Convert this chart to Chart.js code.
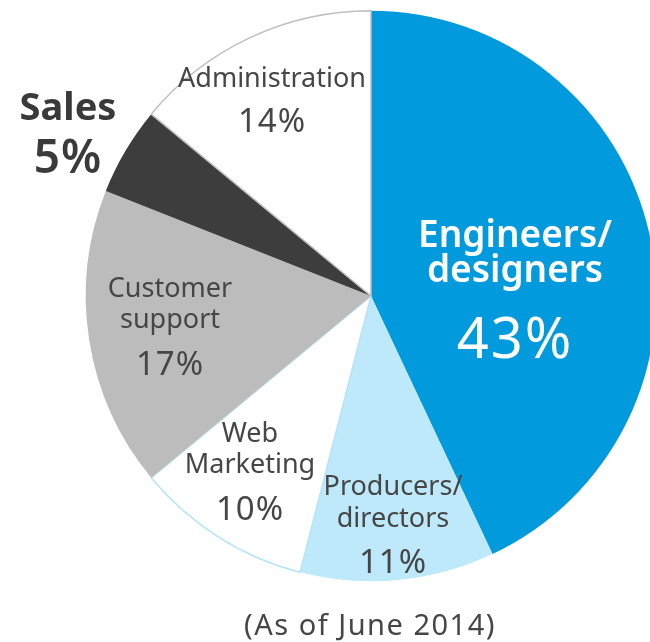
<!DOCTYPE html>
<html>
<head>
<meta charset="utf-8">
<script src="https://cdn.jsdelivr.net/npm/chart.js@4.4.0/dist/chart.umd.min.js"></script>
<style>
  html, body { margin: 0; padding: 0; background: #fff; overflow: hidden; }
  #wrap { position: relative; width: 742px; height: 642px; }
</style>
</head>
<body>
<div id="wrap"><canvas id="staffChart"></canvas></div>
<script>
// staff breakdown by role, clockwise from 12 o'clock
const roles = ['Engineers/\ndesigners', 'Producers/\ndirectors', 'Web\nMarketing', 'Customer\nsupport', 'Sales', 'Administration'];
const shares = [43, 11, 10, 17, 5, 14];
const note = '(As of June 2014)';

const fills = ['#009add', '#bde9fb', '#ffffff', '#bcbcbc', '#3d3d3d', '#ffffff'];
const edges = ['#009add', '#bde9fb', '#b5e4f8', '#bcbcbc', '#3d3d3d', '#bfbfbf'];
const edgeWidths = [0, 0, 1.5, 0, 0, 1.5];

// where each label sits, as offsets from the pie centre (first baseline)
const labelStyle = [
  { dx: 144, dy: -49, size: 37, pctSize: 56, weight: '600', pctWeight: 'normal', color: '#ffffff', gap: 35, pctGap: 76, pctSpace: 2 },
  { dx: 22, dy: 199, size: 27, pctSize: 33, weight: 'normal', pctWeight: 'normal', color: '#464646', gap: 32, pctGap: 46, pctSpace: 1 },
  { dx: -121, dy: 146, size: 27, pctSize: 33, weight: 'normal', pctWeight: 'normal', color: '#464646', gap: 31, pctGap: 47, pctSpace: 1 },
  { dx: -201, dy: 1, size: 27, pctSize: 33, weight: 'normal', pctWeight: 'normal', color: '#464646', gap: 31, pctGap: 47, pctSpace: 1 },
  { dx: -303, dy: -176, size: 38, pctSize: 46, weight: 'bold', pctWeight: '600', color: '#3a3a3a', gap: 0, pctGap: 53, pctSpace: 1 },
  { dx: -99, dy: -209, size: 27, pctSize: 33, weight: 'normal', pctWeight: 'normal', color: '#464646', gap: 0, pctGap: 45, pctSpace: 1 }
];

const fontFamily = '"Noto Sans", "DejaVu Sans", sans-serif';

const sliceLabels = {
  id: 'sliceLabels',
  afterDatasetsDraw(chart) {
    const ctx = chart.ctx;
    const arcs = chart.getDatasetMeta(0).data;
    ctx.save();
    ctx.textAlign = 'center';
    ctx.textBaseline = 'alphabetic';
    arcs.forEach((arc, i) => {
      const s = labelStyle[i];
      const x = arc.x + s.dx;
      let y = arc.y + s.dy;
      ctx.fillStyle = s.color;
      ctx.letterSpacing = '0px';
      ctx.font = `${s.weight} ${s.size}px ${fontFamily}`;
      const lines = roles[i].split('\n');
      lines.forEach((line, k) => {
        ctx.fillText(line, x, y);
        if (k < lines.length - 1) y += s.gap;
      });
      ctx.letterSpacing = s.pctSpace + 'px';
      ctx.font = `${s.pctWeight} ${s.pctSize}px ${fontFamily}`;
      ctx.fillText(shares[i] + '%', x, y + s.pctGap);
    });
    // footnote under the pie
    const c = arcs[0];
    ctx.fillStyle = '#464646';
    ctx.letterSpacing = '1.5px';
    ctx.font = `normal 29px ${fontFamily}`;
    ctx.fillText(note, c.x - 1, 635);
    ctx.restore();
  }
};

new Chart(document.getElementById('staffChart'), {
  type: 'pie',
  data: {
    labels: roles,
    datasets: [{
      data: shares,
      backgroundColor: fills,
      borderColor: edges,
      borderWidth: edgeWidths
    }]
  },
  options: {
    responsive: true,
    maintainAspectRatio: false,
    animation: false,
    layout: { padding: { left: 85, right: 85, top: 10, bottom: 60 } },
    plugins: {
      legend: { display: false },
      tooltip: { enabled: false }
    }
  },
  plugins: [sliceLabels]
});
</script>
</body>
</html>
